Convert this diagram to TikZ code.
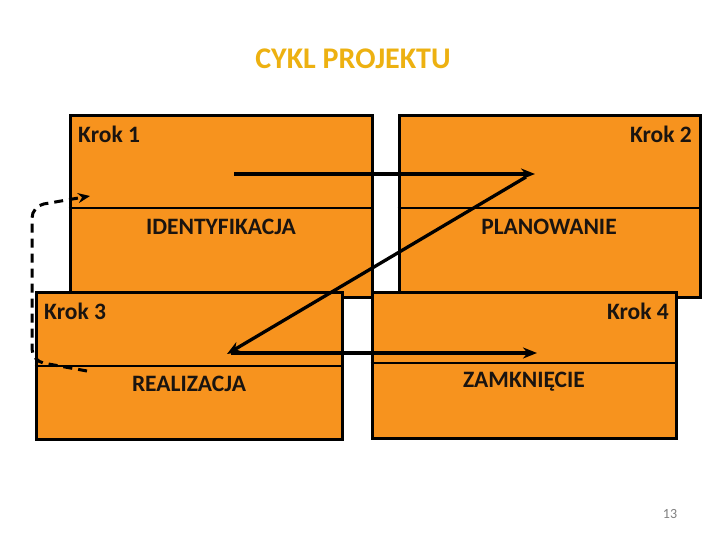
\documentclass[tikz,border=0pt]{standalone}
\usepackage{fontspec}
\setmainfont{Carlito}
\usetikzlibrary{arrows.meta}
\definecolor{boxorange}{RGB}{247,147,30}
\definecolor{titlegold}{RGB}{237,177,17}
\definecolor{txtdark}{RGB}{26,20,16}
\tikzset{
  stepbox/.style={draw=black, line width=3pt, fill=boxorange, rectangle, inner sep=0pt},
  divider/.style={draw=black, line width=1.7pt},
  kroklabel/.style={font=\fontsize{23.5}{26}\selectfont\bfseries, text=txtdark, inner sep=0pt},
  phaselabel/.style={font=\fontsize{23.5}{26}\selectfont\bfseries, text=txtdark, inner sep=0pt},
  flowarrow/.style={draw=black, line width=3.3pt, -{Stealth[length=14pt,width=11pt]}},
  looparrow/.style={draw=black, line width=3pt, dash pattern=on 9pt off 6pt, rounded corners=12pt, -{Stealth[length=12pt,width=10pt]}}
}
\begin{document}
\begin{tikzpicture}[x=1pt,y=-1pt]
\useasboundingbox (0,0) rectangle (720,540);
\fill[white] (0,0) rectangle (720,540);

\node[font=\fontsize{30}{34}\selectfont\bfseries, text=titlegold, inner sep=0pt] (title) at (353,59) {CYKL PROJEKTU};

% back boxes
\node[stepbox, minimum width=302pt, minimum height=181pt] (b1) at (221,206.5) {};
\node[stepbox, minimum width=301pt, minimum height=181pt] (b2) at (549.5,206.5) {};
\draw[divider] (b1.west |- 0,208) -- (b1.east |- 0,208);
\draw[divider] (b2.west |- 0,208) -- (b2.east |- 0,208);
\node[kroklabel, anchor=west] (k1) at (78,134) {Krok 1};
\node[kroklabel, anchor=east] (k2) at (692,134) {Krok 2};
\node[phaselabel] (p1) at (221,227) {IDENTYFIKACJA};
\node[phaselabel] (p2) at (549,227) {PLANOWANIE};

% front boxes
\node[stepbox, minimum width=306pt, minimum height=147pt] (b3) at (189,365.5) {};
\node[stepbox, minimum width=304pt, minimum height=146pt] (b4) at (524,365) {};
\draw[divider] (b3.west |- 0,366) -- (b3.east |- 0,366);
\draw[divider] (b4.west |- 0,363) -- (b4.east |- 0,363);
\node[kroklabel, anchor=west] (k3) at (44,311) {Krok 3};
\node[kroklabel, anchor=east] (k4) at (669,311) {Krok 4};
\node[phaselabel] (p3) at (189,384) {REALIZACJA};
\node[phaselabel] (p4) at (524,382) {ZAMKNIĘCIE};

% flow arrows
\coordinate (s1) at (234,174);
\coordinate (e1) at (535,174);
\coordinate (s2) at (526,177);
\coordinate (e2) at (227,354);
\coordinate (s3) at (231,353);
\coordinate (e3) at (537,353);
\draw[flowarrow] (s1) -- (e1);
\draw[flowarrow] (s2) -- (e2);
\draw[flowarrow] (s3) -- (e3);

% dashed loop
\coordinate (ls) at (87,371);
\coordinate (lb) at (32,361);
\coordinate (lt) at (32,206);
\coordinate (le) at (90,196);
\draw[looparrow] (ls) -- (lb) -- (lt) -- (le);

\node[font=\fontsize{14}{16}\selectfont, text=gray, inner sep=0pt] (pg) at (670,514) {13};
\end{tikzpicture}
\end{document}
